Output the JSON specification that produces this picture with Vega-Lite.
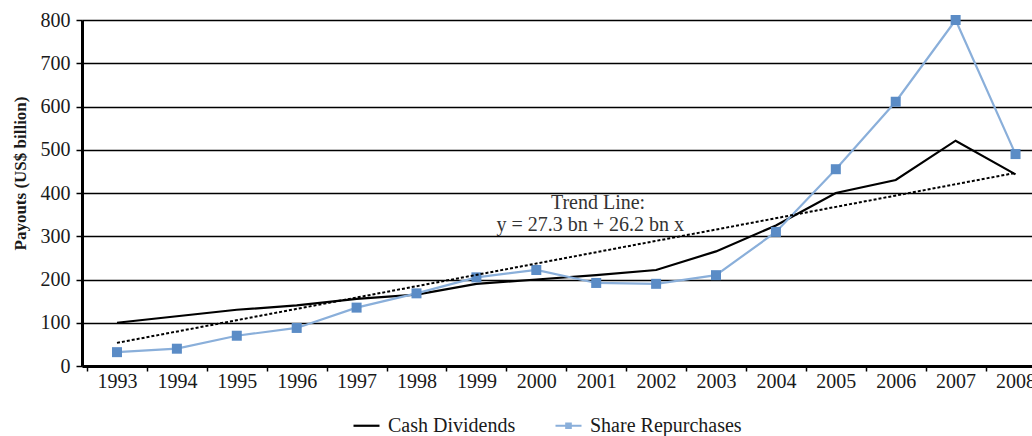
{
  "$schema": "https://vega.github.io/schema/vega-lite/v6.json",
  "width": 950,
  "height": 346,
  "autosize": {"type": "none"},
  "padding": {"left": 82, "top": 20, "right": 0, "bottom": 70},
  "background": "white",
  "config": {
    "view": {"stroke": null},
    "font": "Liberation Serif",
    "axis": {"labelFont": "Liberation Serif", "titleFont": "Liberation Serif", "labelColor": "#1a1a1a", "titleColor": "#1a1a1a"}
  },
  "resolve": {"axis": {"x": "independent"}},
  "datasets": {
    "payouts": [
      {"year": 1993, "series": "Cash Dividends", "value": 100},
      {"year": 1994, "series": "Cash Dividends", "value": 115},
      {"year": 1995, "series": "Cash Dividends", "value": 130},
      {"year": 1996, "series": "Cash Dividends", "value": 140},
      {"year": 1997, "series": "Cash Dividends", "value": 155},
      {"year": 1998, "series": "Cash Dividends", "value": 165},
      {"year": 1999, "series": "Cash Dividends", "value": 190},
      {"year": 2000, "series": "Cash Dividends", "value": 200},
      {"year": 2001, "series": "Cash Dividends", "value": 210},
      {"year": 2002, "series": "Cash Dividends", "value": 222},
      {"year": 2003, "series": "Cash Dividends", "value": 265},
      {"year": 2004, "series": "Cash Dividends", "value": 325},
      {"year": 2005, "series": "Cash Dividends", "value": 400},
      {"year": 2006, "series": "Cash Dividends", "value": 430},
      {"year": 2007, "series": "Cash Dividends", "value": 521},
      {"year": 2008, "series": "Cash Dividends", "value": 443},
      {"year": 1993, "series": "Share Repurchases", "value": 32},
      {"year": 1994, "series": "Share Repurchases", "value": 40},
      {"year": 1995, "series": "Share Repurchases", "value": 70},
      {"year": 1996, "series": "Share Repurchases", "value": 88},
      {"year": 1997, "series": "Share Repurchases", "value": 135},
      {"year": 1998, "series": "Share Repurchases", "value": 168},
      {"year": 1999, "series": "Share Repurchases", "value": 205},
      {"year": 2000, "series": "Share Repurchases", "value": 222},
      {"year": 2001, "series": "Share Repurchases", "value": 192},
      {"year": 2002, "series": "Share Repurchases", "value": 190},
      {"year": 2003, "series": "Share Repurchases", "value": 210},
      {"year": 2004, "series": "Share Repurchases", "value": 310},
      {"year": 2005, "series": "Share Repurchases", "value": 455},
      {"year": 2006, "series": "Share Repurchases", "value": 611},
      {"year": 2007, "series": "Share Repurchases", "value": 800},
      {"year": 2008, "series": "Share Repurchases", "value": 490}
    ],
    "trend": [
      {"year": 1993, "trend": 53.5},
      {"year": 2008, "trend": 446.5}
    ],
    "notes": [
      {"year": 2001.03, "value": 376, "text": "Trend Line:"},
      {"year": 2000.9, "value": 325, "text": "y = 27.3 bn + 26.2 bn x"}
    ]
  },
  "layer": [
    {
      "data": {"name": "payouts"},
      "mark": {"type": "line", "strokeWidth": 2.2},
      "encoding": {
        "x": {
          "field": "year", "type": "quantitative",
          "scale": {"domain": [1992.416, 2008.275], "nice": false, "zero": false},
          "axis": {
            "title": null,
            "format": "d",
            "values": [1993, 1994, 1995, 1996, 1997, 1998, 1999, 2000, 2001, 2002, 2003, 2004, 2005, 2006, 2007, 2008],
            "labelOverlap": false,
            "labelBound": false,
            "labelFlush": false,
            "labelFontSize": 20,
            "labelPadding": 5,
            "grid": false,
            "ticks": false,
            "domainColor": "black",
            "domainWidth": 3
          }
        },
        "y": {
          "field": "value", "type": "quantitative",
          "scale": {"domain": [0, 800], "nice": false},
          "axis": {
            "title": "Payouts (US$ billion)",
            "titleFontSize": 17,
            "titleFontWeight": "bold",
            "titleX": -62,
            "titleY": 153,
            "titleAlign": "center",
            "titleBaseline": "middle",
            "values": [0, 100, 200, 300, 400, 500, 600, 700, 800],
            "labelFontSize": 20,
            "labelPadding": 6,
            "grid": true,
            "gridColor": "black",
            "gridWidth": 1.5,
            "domainColor": "black",
            "domainWidth": 3,
            "tickColor": "black",
            "tickSize": 6,
            "tickWidth": 1.5
          }
        },
        "color": {
          "field": "series", "type": "nominal",
          "scale": {"domain": ["Share Repurchases", "Cash Dividends"], "range": ["#8AAFDA", "#000000"]},
          "legend": {
            "title": null,
            "orient": "none",
            "legendX": 270,
            "legendY": 391,
            "direction": "horizontal",
            "values": ["Cash Dividends", "Share Repurchases"],
            "labelFont": "Liberation Serif",
            "labelFontSize": 20,
            "labelColor": "#1a1a1a",
            "labelOffset": 7,
            "columnPadding": 35,
            "symbolSize": 676,
            "symbolStrokeWidth": 2.2,
            "encode": {
              "symbols": {
                "update": {
                  "shape": [
                    {"test": "datum.value === 'Share Repurchases'", "value": "M-1,0H1M-0.17,-0.17H0.17V0.17H-0.17Z"},
                    {"value": "M-1,0H1"}
                  ],
                  "fill": [
                    {"test": "datum.value === 'Share Repurchases'", "value": "#5B8CC6"},
                    {"value": "transparent"}
                  ]
                }
              }
            }
          }
        },
        "order": {"field": "year"}
      }
    },
    {
      "data": {"name": "payouts"},
      "transform": [{"filter": "datum.series === 'Share Repurchases'"}],
      "mark": {"type": "point", "shape": "square", "filled": true, "size": 100, "color": "#5B8CC6", "opacity": 1},
      "encoding": {
        "x": {"field": "year", "type": "quantitative", "axis": null},
        "y": {"field": "value", "type": "quantitative"}
      }
    },
    {
      "data": {"name": "trend"},
      "mark": {"type": "line", "color": "black", "strokeWidth": 2, "strokeDash": [3, 2]},
      "encoding": {
        "x": {
          "field": "year", "type": "quantitative",
          "axis": {
            "orient": "bottom",
            "title": null,
            "labels": false,
            "domain": false,
            "grid": false,
            "values": [1992.5, 1993.5, 1994.5, 1995.5, 1996.5, 1997.5, 1998.5, 1999.5, 2000.5, 2001.5, 2002.5, 2003.5, 2004.5, 2005.5, 2006.5, 2007.5],
            "tickColor": "black",
            "tickSize": 5,
            "tickWidth": 1.5
          }
        },
        "y": {"field": "trend", "type": "quantitative"}
      }
    },
    {
      "data": {"name": "notes"},
      "mark": {"type": "text", "font": "Liberation Serif", "fontSize": 20, "color": "#333", "align": "center", "baseline": "middle"},
      "encoding": {
        "x": {"field": "year", "type": "quantitative", "axis": null},
        "y": {"field": "value", "type": "quantitative"},
        "text": {"field": "text"}
      }
    }
  ]
}
